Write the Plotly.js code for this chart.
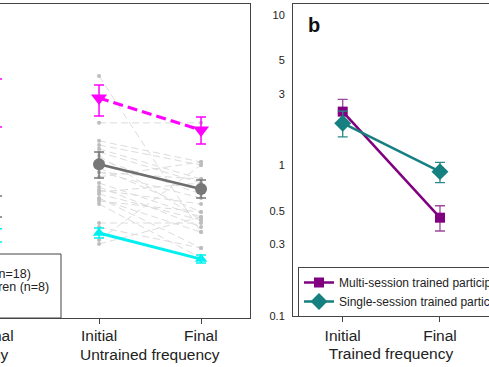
<!DOCTYPE html>
<html>
<head>
<meta charset="utf-8">
<script src="https://cdn.plot.ly/plotly-3.0.1.min.js"></script>
<style>html,body{margin:0;padding:0;background:#fff;overflow:hidden}#chart{width:489px;height:367px}</style>
</head>
<body>
<div id="chart"></div>
<script>
// ---------- data ----------
const phases = ['Initial', 'Final'];
const groups = ['Trained frequency', 'Untrained frequency'];

// left panel: group means (untrained frequency: Initial, Final)
const adultMean = [2.81, 1.72];
const adultUpper = [3.43, 2.10];
const adultLower = [2.13, 1.39];
const multiChildMean = [1.02, 0.698];
const multiChildUpper = [1.23, 0.80];
const multiChildLower = [0.826, 0.608];
const singleChildMean = [0.356, 0.239];
const singleChildUpper = [0.384, 0.254];
const singleChildLower = [0.33, 0.225];

// left panel: trained frequency, Final (only visible part)
const adultTrainedFinal = 2.81, adultTrainedFinalUp = 3.76, adultTrainedFinalLo = 1.80;
const multiTrainedFinal = 0.546, multiTrainedFinalUp = 0.627, multiTrainedFinalLo = 0.455;
const singleTrainedFinal = 0.35, singleTrainedFinalUp = 0.38, singleTrainedFinalLo = 0.31;

// left panel: individual children, untrained frequency
const indivInitial = [3.93, 1.92, 1.46, 1.37, 1.29, 1.23, 1.16, 1.01, 0.96, 0.905, 0.84, 0.765, 0.72,
                      0.687, 0.667, 0.647, 0.608, 0.581, 0.555, 0.415, 0.39, 0.32, 0.301, 0.90, 1.10, 0.60];
const indivFinal   = [0.361, 1.92, 1.055, 1.008, 0.813, 0.765, 0.434, 0.687, 0.491, 0.608, 1.055, 0.455, 0.39,
                      0.555, 0.765, 0.434, 0.283, 0.491, 0.243, 0.415, 0.283, 1.008, 0.455, 0.813, 0.647, 0.361];

// right panel (b): trained frequency
const multiSessionMean = [2.28, 0.45];
const multiSessionUpper = [2.75, 0.54];
const multiSessionLower = [1.95, 0.367];
const singleSessionMean = [1.91, 0.91];
const singleSessionUpper = [2.30, 1.05];
const singleSessionLower = [1.55, 0.77];

const yTickVals = [0.1, 0.3, 0.5, 1, 3, 5, 10];
const yTickText = ['0.1', '0.3', '0.5', '1', '3', '5', '10'];

// ---------- layout helpers ----------
const W = 489, H = 367;
const FONT = 'Arial, "Liberation Sans", sans-serif';
const leftDomain = [0, 250 / W];
const leftRange = [1.029, 3.48];
const rightDomain = [293 / W, 1];
const yDomL = [(H - 318) / H, (H - 4) / H];
const yDomR = [(H - 316) / H, (H - 4) / H];
const yRangeL = [-1.013, 1.073];
const yRangeR = [-1.0, 1.073];
function leftPaperX(v) {
  return leftDomain[0] + (v - leftRange[0]) / (leftRange[1] - leftRange[0]) * (leftDomain[1] - leftDomain[0]);
}
function py(pix) { return (H - pix) / H; }

// positions on left axis: trained Initial=0, Final=1, untrained Initial=2, Final=3
const leftPos = [];
groups.forEach((g, gi) => phases.forEach((p, pi) => leftPos.push(gi * phases.length + pi)));
const untrainedX = [leftPos[2], leftPos[3]];
const trainedFinalX = leftPos[1];

function diff(a, b) { return a.map((v, i) => v - b[i]); }

// individual lines in one trace with gaps
const indX = [], indY = [];
indivInitial.forEach((v, i) => { indX.push(untrainedX[0], untrainedX[1], null); indY.push(v, indivFinal[i], null); });

function groupTrace(mean, up, lo, tMean, tUp, tLo, color, symbol, size, dash, width, lineColor, name) {
  return {
    type: 'scatter', mode: 'lines+markers', xaxis: 'x', yaxis: 'y', showlegend: false, name: name,
    x: [trainedFinalX, null, untrainedX[0], untrainedX[1]],
    y: [tMean, null, mean[0], mean[1]],
    cliponaxis: false,
    connectgaps: false,
    line: {color: lineColor || color, width: width, dash: dash},
    marker: {color: color, symbol: symbol, size: size, line: {width: 0}},
    error_y: {type: 'data', symmetric: false,
      array: [tUp - tMean, null].concat(diff(up, mean)),
      arrayminus: [tMean - tLo, null].concat(diff(mean, lo)),
      color: color, thickness: 1.5, width: 5}
  };
}

const traces = [
  {type: 'scatter', mode: 'lines+markers', xaxis: 'x', yaxis: 'y', showlegend: false,
   x: indX, y: indY, line: {color: '#dcdcdc', width: 1, dash: '7px,4px'},
   marker: {color: '#bdbdbd', size: 4}},
  groupTrace(adultMean, adultUpper, adultLower, adultTrainedFinal, adultTrainedFinalUp, adultTrainedFinalLo,
             '#ff00ff', 'triangle-down', 14, '10px,5px', 3, null, 'Adults'),
  groupTrace(multiChildMean, multiChildUpper, multiChildLower, multiTrainedFinal, multiTrainedFinalUp, multiTrainedFinalLo,
             '#777777', 'circle', 12, 'solid', 2.5, '#6e6e6e', 'Multi-session trained children (n=18)'),
  groupTrace(singleChildMean, singleChildUpper, singleChildLower, singleTrainedFinal, singleTrainedFinalUp, singleTrainedFinalLo,
             '#00f0f0', 'triangle-up', 11, 'solid', 3, null, 'Single-session trained children (n=8)'),
  {type: 'scatter', mode: 'lines+markers', xaxis: 'x2', yaxis: 'y2', name: 'Multi-session trained participants',
   x: phases, y: multiSessionMean,
   line: {color: '#800080', width: 2.5}, marker: {color: '#800080', symbol: 'square', size: 10},
   error_y: {type: 'data', symmetric: false, array: diff(multiSessionUpper, multiSessionMean),
             arrayminus: diff(multiSessionMean, multiSessionLower), color: '#9a4a9a', thickness: 1.3, width: 5}},
  {type: 'scatter', mode: 'lines+markers', xaxis: 'x2', yaxis: 'y2', name: 'Single-session trained participants',
   x: phases, y: singleSessionMean,
   line: {color: '#168080', width: 2.5}, marker: {color: '#168080', symbol: 'diamond', size: 13},
   error_y: {type: 'data', symmetric: false, array: diff(singleSessionUpper, singleSessionMean),
             arrayminus: diff(singleSessionMean, singleSessionLower), color: '#2a8a8a', thickness: 1.3, width: 5}}
];

const tickFont = {family: FONT, size: 15.5, color: '#222'};
const annotations = [];
leftPos.forEach((p, i) => {
  annotations.push({xref: 'paper', yref: 'paper', x: leftPaperX(p), y: py(335), text: phases[i % phases.length],
    showarrow: false, xanchor: 'center', yanchor: 'middle', font: tickFont});
});
groups.forEach((g, gi) => {
  const mid = (leftPos[gi * 2] + leftPos[gi * 2 + 1]) / 2;
  annotations.push({xref: 'paper', yref: 'paper', x: leftPaperX(mid), y: py(354), text: g,
    showarrow: false, xanchor: 'center', yanchor: 'middle', font: tickFont});
});
// left legend text (cut off at left edge)
annotations.push({xref: 'paper', yref: 'paper', x: 33 / W, y: py(274), text: 'Multi-session trained children (n=18)',
  showarrow: false, xanchor: 'right', yanchor: 'middle', font: {family: FONT, size: 12.5, color: '#222'}});
annotations.push({xref: 'paper', yref: 'paper', x: 51 / W, y: py(287), text: 'Single-session trained children (n=8)',
  showarrow: false, xanchor: 'right', yanchor: 'middle', font: {family: FONT, size: 12.5, color: '#222'}});
// panel label
annotations.push({xref: 'paper', yref: 'paper', x: 314 / W, y: py(25), text: '<b>b</b>',
  showarrow: false, xanchor: 'center', yanchor: 'middle', font: {family: FONT, size: 20, color: '#111'}});

const layout = {
  width: W, height: H,
  margin: {l: 0, r: 0, t: 0, b: 0, autoexpand: false},
  paper_bgcolor: '#fff', plot_bgcolor: '#fff',
  font: {family: FONT, color: '#222'},
  xaxis: {domain: leftDomain, range: leftRange, tickvals: leftPos, showticklabels: false,
          ticks: 'outside', ticklen: 5, tickcolor: '#444', showgrid: false, zeroline: false,
          showline: true, linecolor: '#444', linewidth: 1, mirror: true, anchor: 'y'},
  yaxis: {domain: yDomL, type: 'log', range: yRangeL, showgrid: false, zeroline: false,
          showticklabels: false, ticks: '', showline: true, side: 'right', linecolor: '#444', linewidth: 1, anchor: 'x'},
  xaxis2: {domain: rightDomain, type: 'category', range: [-0.511, 1.504], anchor: 'y2',
           ticks: 'outside', ticklen: 5, tickcolor: '#444', tickfont: tickFont, showgrid: false, zeroline: false,
           showline: true, linecolor: '#444', linewidth: 1, mirror: true,
           title: {text: 'Trained frequency', font: tickFont, standoff: 5}, automargin: false},
  yaxis2: {domain: yDomR, type: 'log', range: yRangeR, anchor: 'x2', tickvals: yTickVals, ticktext: yTickText,
           tickfont: {family: FONT, size: 11, color: '#222'}, ticks: '', ticklabelstandoff: 5,
           showgrid: false, zeroline: false, showline: true, linecolor: '#444', linewidth: 1, automargin: false},
  showlegend: true,
  legend: {x: 298 / W, y: py(267), xanchor: 'left', yanchor: 'top', bgcolor: '#fff',
           bordercolor: '#444', borderwidth: 1, font: {family: FONT, size: 12, color: '#222'},
           tracegroupgap: 0},
  shapes: [
    {type: 'rect', xref: 'paper', yref: 'paper', x0: -0.3, x1: 61 / W, y0: py(318), y1: py(254),
     line: {color: '#444', width: 1}, fillcolor: 'rgba(0,0,0,0)', layer: 'above'}
  ],
  annotations: annotations
};

Plotly.newPlot('chart', traces, layout, {displayModeBar: false, staticPlot: true});
</script>
</body>
</html>
